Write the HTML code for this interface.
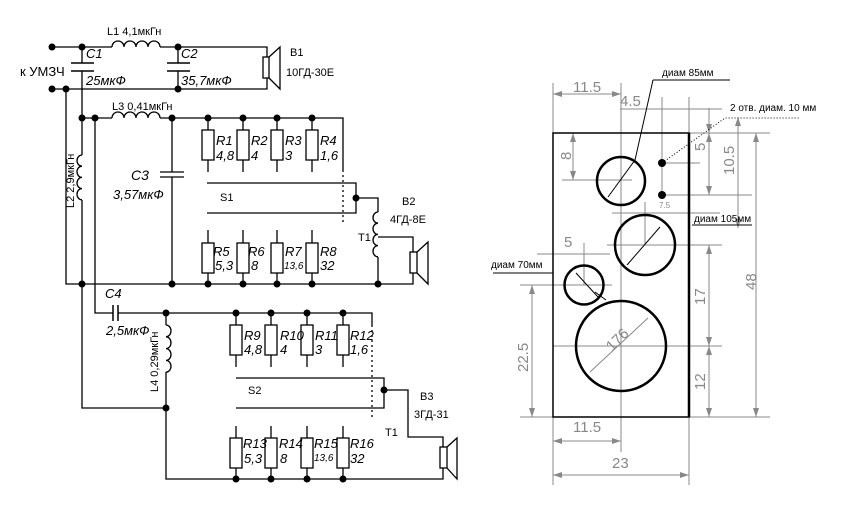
<!DOCTYPE html>
<html><head><meta charset="utf-8"><style>
html,body{margin:0;padding:0;background:#fff}
svg{display:block}
text{font-family:"Liberation Sans",sans-serif}
.l{font-size:11px;fill:#000}
.i{font-size:13px;font-style:italic;fill:#000}
.d{font-size:15px;fill:#888}
</style></head><body>
<svg width="844" height="510" viewBox="0 0 844 510" xmlns="http://www.w3.org/2000/svg">
<g stroke="#000" stroke-width="1.3" fill="none">
<path d="M52,47H112M160,47H267V57"/>
<path d="M112,47a6,6 0 0 1 12,0a6,6 0 0 1 12,0a6,6 0 0 1 12,0a6,6 0 0 1 12,0"/>
<path d="M52,89H267V78"/>
<path d="M82,47V63M82,71V89M178,47V63M178,71V89"/>
<path d="M71,63H94M71,71H94M167,63H190M167,71H190" stroke-width="1.5"/>
<rect x="263" y="57" width="6" height="21"/>
<path d="M269,57L280,47V89L269,78"/>
<path d="M82,89V155M82,200V408H166M66,89V284H413V273"/>
<path d="M82,155a5,5.6 0 0 0 0,11.2a5,5.6 0 0 0 0,11.2a5,5.6 0 0 0 0,11.2a5,5.6 0 0 0 0,11.2"/>
<path d="M82,118H112M160,118H343V170"/>
<path d="M112,118a6,6 0 0 1 12,0a6,6 0 0 1 12,0a6,6 0 0 1 12,0a6,6 0 0 1 12,0"/>
<path d="M343,170V223" stroke-dasharray="2,3"/>
<path d="M95,118V313H113M118,313H372V325"/>
<path d="M113,305V321M118,305V321" stroke-width="1.5"/>
<path d="M172,118V172M172,177V284M160,172H184M160,177H184"/>
<g id="r1">
<path d="M208,118V130M208,160V172M208,230V243M208,273V284"/>
<rect x="202" y="130" width="12" height="30"/><rect x="202" y="243" width="12" height="30"/>
</g>
<use href="#r1" x="35"/><use href="#r1" x="69"/><use href="#r1" x="104"/>
<path d="M207,183H356V213H207M356,198H378V212M378,257V284M378,237H413V252"/>
<path d="M378,212a5,5.6 0 0 0 0,11.2a5,5.6 0 0 0 0,11.2a5,5.6 0 0 0 0,11.2a5,5.6 0 0 0 0,11.2"/>
<rect x="410" y="252" width="7" height="21"/>
<path d="M417,252L428,242V284L417,273"/>
<path d="M166,313V325M166,372V479H443V468"/>
<path d="M166,325a5,5.9 0 0 1 0,11.8a5,5.9 0 0 1 0,11.8a5,5.9 0 0 1 0,11.8a5,5.9 0 0 1 0,11.8"/>
<g id="r2">
<path d="M236,313V325M236,355V367M236,426V438M236,468V479"/>
<rect x="230" y="325" width="12" height="30"/><rect x="230" y="438" width="12" height="30"/>
</g>
<use href="#r2" x="35"/><use href="#r2" x="71"/><use href="#r2" x="107"/>
<path d="M372,325V417" stroke-dasharray="2,3"/>
<path d="M236,378H384V408H236M384,390H408V437H443V447"/>
<rect x="440" y="447" width="7" height="21"/>
<path d="M447,447L457,438V479L447,468"/>
</g>
<g fill="#000">
<circle cx="52" cy="47" r="3.5"/><circle cx="82" cy="47" r="3.5"/><circle cx="178" cy="47" r="3.5"/>
<circle cx="52" cy="89" r="3.5"/><circle cx="66" cy="89" r="3.5"/><circle cx="178" cy="89" r="3.5"/>
<circle cx="82" cy="118" r="3.5"/><circle cx="95" cy="118" r="3.5"/><circle cx="172" cy="118" r="3.5"/>
<circle cx="208" cy="118" r="3.5"/><circle cx="243" cy="118" r="3.5"/><circle cx="277" cy="118" r="3.5"/><circle cx="312" cy="118" r="3.5"/>
<circle cx="356" cy="198" r="3.5"/>
<circle cx="82" cy="284" r="3.5"/><circle cx="172" cy="284" r="3.5"/><circle cx="208" cy="284" r="3.5"/><circle cx="243" cy="284" r="3.5"/><circle cx="277" cy="284" r="3.5"/><circle cx="312" cy="284" r="3.5"/><circle cx="378" cy="284" r="3.5"/>
<circle cx="166" cy="313" r="3.5"/><circle cx="236" cy="313" r="3.5"/><circle cx="271" cy="313" r="3.5"/><circle cx="307" cy="313" r="3.5"/><circle cx="343" cy="313" r="3.5"/>
<circle cx="166" cy="408" r="3.5"/><circle cx="384" cy="390" r="3.5"/>
<circle cx="236" cy="479" r="3.5"/><circle cx="271" cy="479" r="3.5"/><circle cx="307" cy="479" r="3.5"/><circle cx="343" cy="479" r="3.5"/>
</g>
<g>
<text class="l" x="107" y="35">L1 4,1мкГн</text>
<text class="i" x="86" y="58">C1</text><text class="i" x="86" y="85">25мкФ</text>
<text class="i" x="181" y="58">C2</text><text class="i" x="181" y="85">35,7мкФ</text>
<text class="l" x="20" y="76" style="font-size:13px">к УМЗЧ</text>
<text class="l" x="290" y="56">B1</text><text class="l" x="286" y="76">10ГД-30Е</text>
<text class="l" x="112" y="110">L3 0,41мкГн</text>
<text class="l" transform="translate(74,208) rotate(-90)">L2 2,9мкГн</text>
<text class="i" x="131" y="180" style="font-size:14px">C3</text><text class="i" x="113" y="199">3,57мкФ</text>
<text class="i" x="216" y="145">R1</text><text class="i" x="216" y="160">4,8</text>
<text class="i" x="251" y="145">R2</text><text class="i" x="251" y="160">4</text>
<text class="i" x="285" y="145">R3</text><text class="i" x="285" y="160">3</text>
<text class="i" x="320" y="145">R4</text><text class="i" x="320" y="160">1,6</text>
<text class="l" x="220" y="201">S1</text>
<text class="l" x="402" y="205">B2</text><text class="l" x="390" y="223">4ГД-8Е</text>
<text class="l" x="358" y="241">T1</text>
<text class="i" x="213" y="256">R5</text><text class="i" x="215" y="270">5,3</text>
<text class="i" x="248" y="256">R6</text><text class="i" x="251" y="270">8</text>
<text class="i" x="285" y="256">R7</text><text class="i" x="284" y="269" style="font-size:10px">13,6</text>
<text class="i" x="320" y="256">R8</text><text class="i" x="320" y="270">32</text>
<text class="i" x="105" y="298">C4</text><text class="i" x="106" y="335">2,5мкФ</text>
<text class="l" transform="translate(158,392) rotate(-90)">L4 0,29мкГн</text>
<text class="i" x="244" y="340">R9</text><text class="i" x="244" y="354">4,8</text>
<text class="i" x="280" y="340">R10</text><text class="i" x="280" y="354">4</text>
<text class="i" x="315" y="340">R11</text><text class="i" x="315" y="354">3</text>
<text class="i" x="350" y="340">R12</text><text class="i" x="350" y="354">1,6</text>
<text class="l" x="248" y="394">S2</text>
<text class="l" x="420" y="400">B3</text><text class="l" x="414" y="418">3ГД-31</text>
<text class="l" x="385" y="436">T1</text>
<text class="i" x="243" y="448">R13</text><text class="i" x="244" y="463">5,3</text>
<text class="i" x="279" y="448">R14</text><text class="i" x="280" y="463">8</text>
<text class="i" x="314" y="448">R15</text><text class="i" x="314" y="461" style="font-size:10px">13,6</text>
<text class="i" x="350" y="448">R16</text><text class="i" x="350" y="463">32</text>
</g>
<g stroke="#888" stroke-width="1" fill="none">
<path d="M553,83V485M621,83V452M689,97V485M662,97V195"/>
<path d="M553,94H621M620,109H722M612,213H720M607,245H722M537,254H610M520,285H612M553,346H722M553,441H621M553,475H689"/>
<path d="M562,180H632M662,163H700M662,195H752M689,133H770M520,417H770"/>
<path d="M573,133V180M709,108V195M738,117V228M709,245V417M756,133V417M532,285V417M645,202V245M584,243V285"/>
</g>
<g fill="#888">
<path d="M553,94l9,-3v6zM621,94l-9,-3v6zM553,441l9,-3v6zM621,441l-9,-3v6zM553,475l9,-3v6zM689,475l-9,-3v6z"/>
<path d="M756,133l-3,9h6zM756,417l-3,-9h6zM532,285l-3,9h6zM532,417l-3,-9h6zM573,133l-3,9h6zM573,180l-3,-9h6z"/>
<path d="M709,245l-3,9h6zM709,346l-3,-9h6zM709,346l-3,9h6zM709,417l-3,-9h6zM709,133l-3,-9h6zM709,133l-3,9h6zM709,195l-3,-9h6zM738,117l-3,9h6zM738,228l-3,-9h6z"/>
</g>
<g stroke="#000" fill="none">
<rect x="553" y="133" width="136" height="284" stroke-width="1.5"/>
<path d="M689,133V417" stroke-width="2.5"/>
<circle cx="621" cy="181" r="24" stroke-width="2.5"/>
<circle cx="645" cy="245" r="30" stroke-width="2.5"/>
<circle cx="584" cy="285" r="19.5" stroke-width="2.5"/>
<circle cx="621" cy="346" r="45" stroke-width="2.5"/>
<path d="M653,80H730M653,80L635,160L608,197M692,225H752M493,273H553M576,273L598,297M595,292L606,300" stroke-width="1"/>
<path d="M662,163L725,118H800" stroke-dasharray="1,2" stroke-width="1"/>
<path d="M660,227L627,265" stroke-width="1"/>
<path d="M590,372L648,318" stroke="#888" stroke-width="1"/>
</g>
<circle cx="662" cy="163" r="4"/><circle cx="662" cy="195" r="4"/>
<g>
<text class="d" x="573" y="92">11.5</text><text class="d" x="620" y="106">4.5</text>
<text class="d" x="564" y="247">5</text>
<text class="d" x="573" y="432">11.5</text><text class="d" x="612" y="468">23</text>
<text class="d" transform="translate(571,160) rotate(-90)">8</text>
<text class="d" transform="translate(705,151) rotate(-90)">5</text>
<text class="d" transform="translate(734,175) rotate(-90)">10.5</text>
<text class="d" transform="translate(705,305) rotate(-90)">17</text>
<text class="d" transform="translate(705,390) rotate(-90)">12</text>
<text class="d" transform="translate(756,290) rotate(-90)">48</text>
<text class="d" transform="translate(528,372) rotate(-90)">22.5</text>
<text class="d" transform="translate(612,352) rotate(-45)">176</text>
<text style="font-size:8px;fill:#888" x="659" y="208">7.5</text>
<text class="l" x="662" y="76" style="font-size:10px">диам 85мм</text>
<text class="l" x="730" y="111" style="font-size:10px">2 отв. диам. 10 мм</text>
<text class="l" x="694" y="222" style="font-size:10px">диам 105мм</text>
<text class="l" x="491" y="268" style="font-size:10px">диам 70мм</text>
</g>
</svg>
</body></html>
